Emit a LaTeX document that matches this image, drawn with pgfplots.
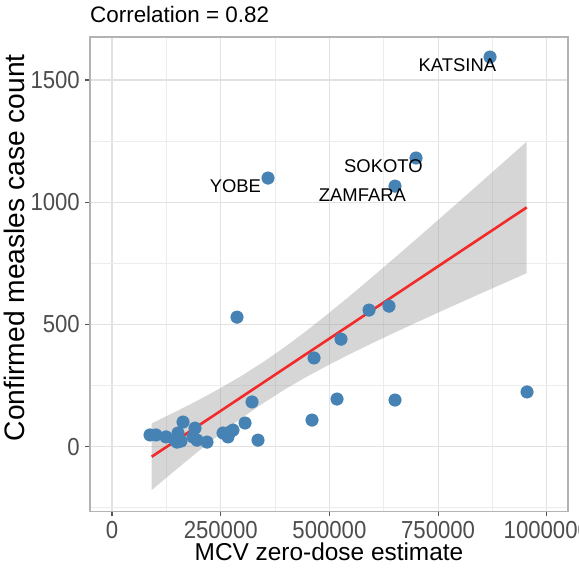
\documentclass[border=0pt]{standalone}
\usepackage{pgfplots}
\pgfplotsset{compat=1.18}
\usepgfplotslibrary{fillbetween}
\usepackage{fontspec}
\setmainfont{Liberation Sans}
\newfontfamily\tickfont[FakeStretch=0.9]{Liberation Sans}

\definecolor{steelblue}{HTML}{4682B4}
\definecolor{bandgray}{HTML}{999999}
\definecolor{gridmaj}{HTML}{E2E2E2}
\definecolor{gridmin}{HTML}{ECECEC}
\definecolor{bordercol}{HTML}{B3B3B3}
\definecolor{tickcol}{HTML}{555555}
\definecolor{ticktext}{HTML}{4D4D4D}
\definecolor{fitred}{HTML}{F22A2A}

% states: MCV zero-dose estimate vs confirmed measles cases
\pgfplotstableread{
x y
87400 48
101200 48
124200 40
144900 27
151800 56
163300 101
149500 19
158700 23
190900 76
195500 27
186300 40
218500 19
255300 56
271400 60
266800 40
278300 68
305900 97
322000 183
335800 27
287500 530
358800 1099
460000 109
464600 363
517500 195
526700 440
591100 559
637100 575
650900 191
650900 1066
699200 1181
869400 1594
954500 224
}\points

% linear fit and its confidence band
\pgfplotstableread{
x line up lo
91300 -41 95.5 -177.5
150000 28.4 146.4 -89.6
200000 87.5 191.9 -16.9
250000 146.7 240.2 53.2
300000 205.8 292.2 119.4
350000 264.9 349.1 180.7
400000 324.1 411.2 237.0
450000 383.2 477.9 288.5
500000 442.3 548.4 336.2
550000 501.4 621.4 381.4
600000 560.6 696.4 424.8
650000 619.7 772.6 466.8
700000 678.8 849.7 507.9
750000 738.0 927.5 548.5
800000 797.1 1005.6 588.6
850000 856.2 1084.1 628.3
900000 915.3 1162.9 667.7
953800 979.0 1248.0 710.0
}\fit

\begin{document}
\begin{tikzpicture}
\begin{axis}[
  scale only axis, width=478bp, height=474.5bp,
  at={(0,0)}, anchor=south west,
  xmin=-50600, xmax=1048750, ymin=-265, ymax=1676,
  xtick={0,250000,500000,750000,1000000},
  xticklabels={0,250000,500000,750000,1000000},
  minor xtick={125000,375000,625000,875000},
  ytick={0,500,1000,1500},
  yticklabels={0,500,1000,1500},
  minor ytick={-250,250,750,1250},
  grid=both,
  major grid style={color=gridmaj, line width=1.1bp},
  minor grid style={color=gridmin, line width=0.7bp},
  axis line style={color=bordercol, line width=1.3bp},
  tick align=outside, major tick length=4.5bp, minor tick length=0pt,
  tick style={color=tickcol, line width=1.1bp},
  xtick pos=lower, ytick pos=left,
  scaled ticks=false,
  xticklabel style={font=\tickfont\fontsize{24.7}{26}\selectfont, text=ticktext, inner sep=0pt, anchor=north, yshift=-5.5bp},
  yticklabel style={font=\tickfont\fontsize{24.7}{26}\selectfont, text=ticktext, inner sep=0pt, anchor=east, xshift=-5.5bp},
  title={Correlation = 0.82},
  title style={at={(axis description cs:0,1)}, anchor=base west, yshift=8.3bp, inner sep=0pt, font=\fontsize{22.5}{26}\selectfont},
  xlabel={MCV zero-dose estimate},
  xlabel style={at={(axis description cs:0.5,0)}, anchor=base, yshift=-48.5bp, inner sep=0pt, font=\fontsize{24.5}{28}\selectfont},
  ylabel={Confirmed measles case count},
  ylabel style={at={(axis description cs:0,0.556)}, anchor=base, yshift=65bp, inner sep=0pt, font=\fontsize{28.3}{32}\selectfont},
]
\addplot[only marks, mark=*, mark size=6.3bp, color=steelblue] table[x=x, y=y] {\points};
\addplot[name path=up, draw=none, forget plot] table[x=x, y=up] {\fit};
\addplot[name path=lo, draw=none, forget plot] table[x=x, y=lo] {\fit};
\addplot[fill=bandgray, fill opacity=0.4, draw=none] fill between[of=up and lo];
\addplot[color=fitred, line width=2.6bp, mark=none] table[x=x, y=line] {\fit};
\addplot[draw=none, mark=none, nodes near coords, point meta=explicit symbolic,
  every node near coord/.append style={anchor=center, inner sep=0pt, text=black, font=\fontsize{18.5}{20}\selectfont}]
  table[x=x, y=y, meta=lab] {
x y lab
794400 1559 KATSINA
624200 1146 SOKOTO
575900 1031 ZAMFARA
283800 1064 YOBE
};
\end{axis}
\pgfresetboundingbox
\path[use as bounding box] (-90bp,-57.5bp) rectangle (489bp,511.5bp);
\end{tikzpicture}
\end{document}
